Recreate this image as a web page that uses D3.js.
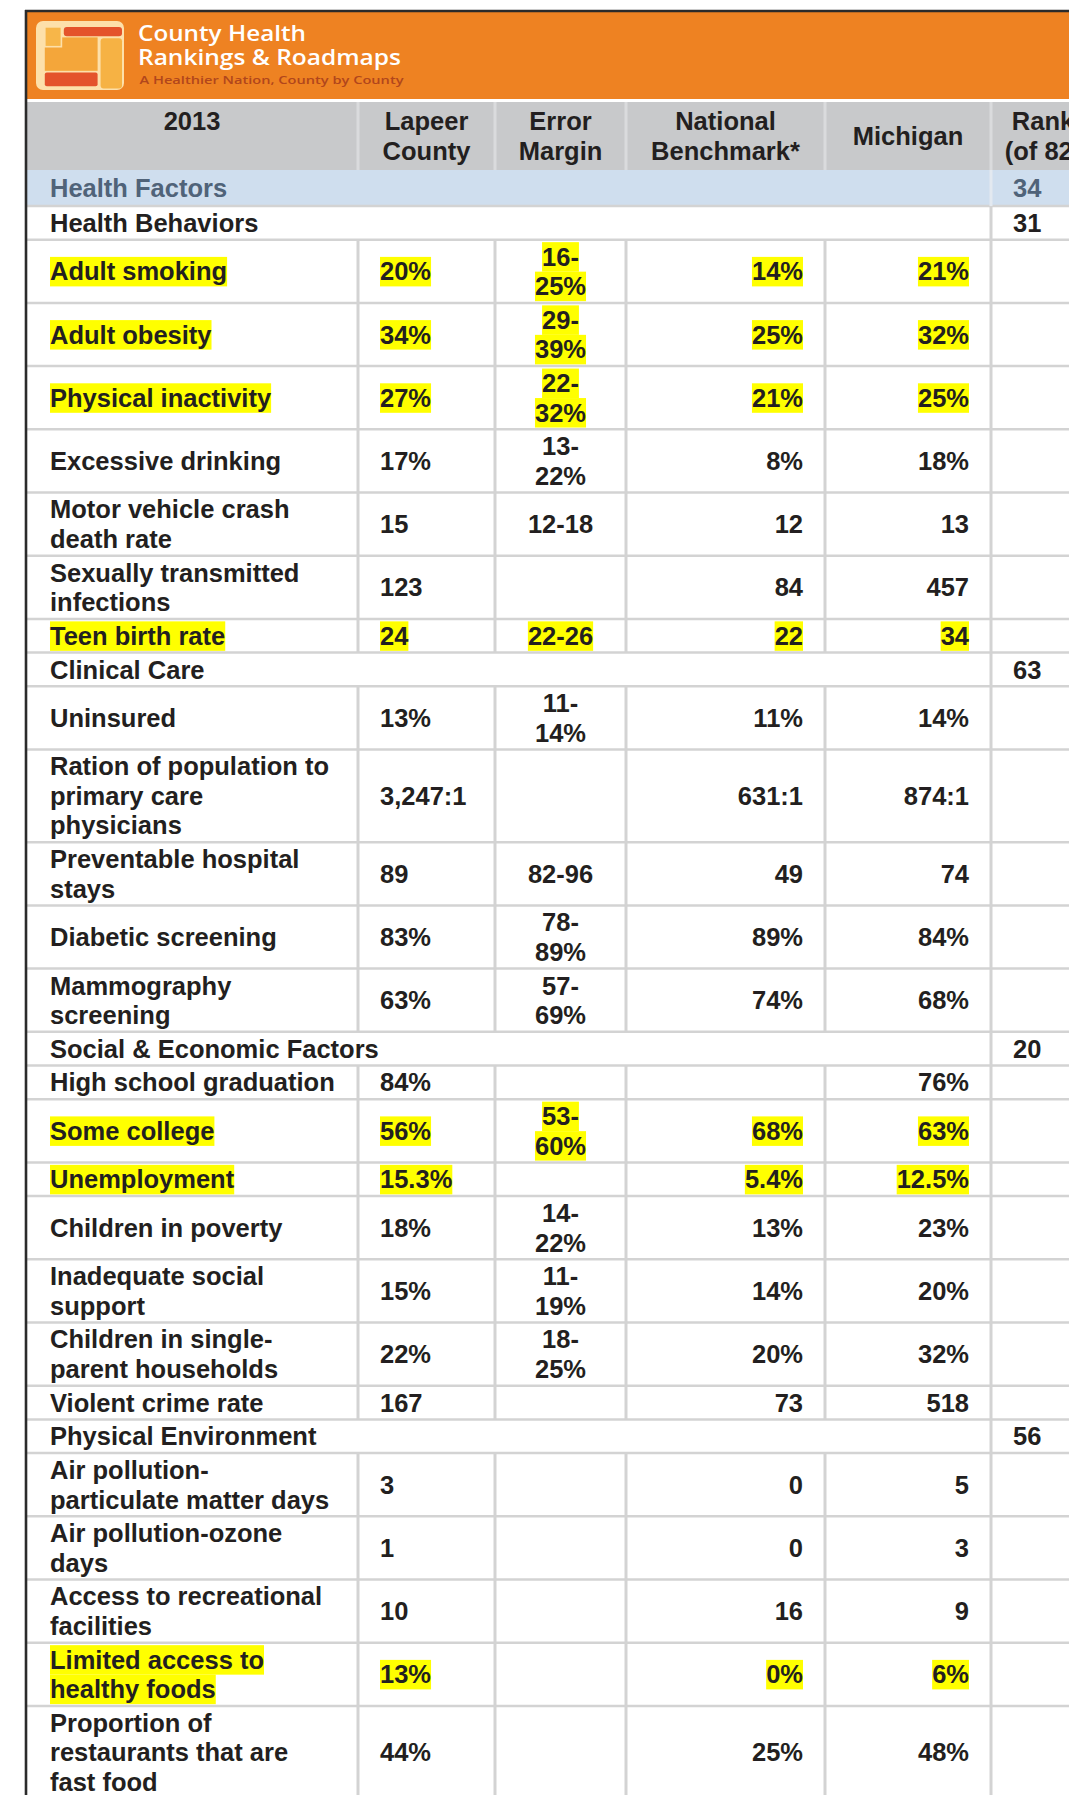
<!DOCTYPE html>
<html>
<head>
<meta charset="utf-8">
<title>County Health Rankings 2013 - Lapeer County</title>
<script src="https://cdn.jsdelivr.net/npm/d3@7"></script>
<style>
    html, body { margin: 0; padding: 0; background: #fff; overflow: hidden; }
    svg { display: block; }
</style>
</head>
<body>
<div id="chart"></div>
<script>
// Table content
const headerLabels  = ["2013", "Lapeer\nCounty", "Error\nMargin", "National\nBenchmark*", "Michigan", "Rank\n(of 82)"];
const factorName    = "Health Factors";
const factorRank    = 34;
const sectionNames  = ["Health Behaviors", "Clinical Care", "Social & Economic Factors", "Physical Environment"];
const sectionRanks  = [31, 63, 20, 56];
const measureSection = [0, 0, 0, 0, 0, 0, 0, 1, 1, 1, 1, 1, 2, 2, 2, 2, 2, 2, 2, 3, 3, 3, 3, 3];

const measureNames = [
    "Adult smoking", "Adult obesity", "Physical inactivity", "Excessive drinking",
    "Motor vehicle crash\ndeath rate", "Sexually transmitted\ninfections", "Teen birth rate",
    "Uninsured", "Ration of population to\nprimary care\nphysicians", "Preventable hospital\nstays",
    "Diabetic screening", "Mammography\nscreening",
    "High school graduation", "Some college", "Unemployment", "Children in poverty",
    "Inadequate social\nsupport", "Children in single-\nparent households", "Violent crime rate",
    "Air pollution-\nparticulate matter days", "Air pollution-ozone\ndays",
    "Access to recreational\nfacilities", "Limited access to\nhealthy foods",
    "Proportion of\nrestaurants that are\nfast food"
];
const lapeerCounty = ["20%", "34%", "27%", "17%", "15", "123", "24", "13%", "3,247:1", "89", "83%", "63%",
    "84%", "56%", "15.3%", "18%", "15%", "22%", "167", "3", "1", "10", "13%", "44%"];
const errorMargin = ["16-25%", "29-39%", "22-32%", "13-22%", "12-18", "", "22-26", "11-14%", "", "82-96", "78-89%", "57-69%",
    "", "53-60%", "", "14-22%", "11-19%", "18-25%", "", "", "", "", "", ""];
const nationalBenchmark = ["14%", "25%", "21%", "8%", "12", "84", "22", "11%", "631:1", "49", "89%", "74%",
    "", "68%", "5.4%", "13%", "14%", "20%", "73", "0", "0", "16", "0%", "25%"];
const michiganValues = ["21%", "32%", "25%", "18%", "13", "457", "34", "14%", "874:1", "74", "84%", "68%",
    "76%", "63%", "12.5%", "23%", "20%", "32%", "518", "5", "3", "9", "6%", "48%"];
const highlightedMeasures = ["Adult smoking", "Adult obesity", "Physical inactivity", "Teen birth rate",
    "Some college", "Unemployment", "Limited access to healthy foods"];

// Layout
const WIDTH       = 1069;
const HEIGHT      = 1795;
const FONT        = "'Liberation Sans', Arial, Helvetica, sans-serif";
const FONT_SIZE   = 25.5;
const LINE_HEIGHT = 29.5;
const BASELINE    = 9.1;     // offset from line centre to baseline
const TEXT_COLOR  = "#231f20";
const GRID_COLOR  = "#d3d3d3";
const HIGHLIGHT   = "#ffff00";
const MAX_RANGE_W = 80;      // error margins wider than this wrap after the dash

const HEADER_TOP  = 102;
const TABLE_TOP   = 170;

const columns = ["measure", "county", "error", "national", "state", "rank"];
const edges   = [26, 358, 495, 626, 825, 991, 1095];

const xLeft  = d3.scaleOrdinal().domain(columns).range(edges.slice(0, -1));
const xRight = d3.scaleOrdinal().domain(columns).range(edges.slice(1));

// How each column places its text: [anchor, inset]
const placement = {
    measure:  ["start", 24],
    county:   ["start", 22],
    error:    ["middle", 0],
    national: ["end", 22],
    state:    ["end", 22],
    rank:     ["start", 22]
};

const svg = d3.select("#chart")
    .append("svg")
    .attr("width", WIDTH)
    .attr("height", HEIGHT)
    .attr("viewBox", [0, 0, WIDTH, HEIGHT]);

// Hidden group used to measure text widths
const probe = svg.append("g").attr("opacity", 0);

function textWidth(str, size = FONT_SIZE)
{
    let t = probe.append("text")
        .attr("font-family", FONT)
        .attr("font-weight", "bold")
        .attr("font-size", size)
        .text(str);
    let w = t.node().getComputedTextLength();
    t.remove();
    return w;
}

function textX(col)
{
    let [anchor, inset] = placement[col];
    if (anchor === "start") return xLeft(col) + inset;
    if (anchor === "end") return xRight(col) - inset;
    return (xLeft(col) + xRight(col)) / 2;
}

/**
 * Draws one or more lines of text centred vertically on cy,
 * with an optional yellow marker behind each line.
 */
function drawLines(group, lines, x, anchor, cy, marked, color = TEXT_COLOR)
{
    let top = cy - (lines.length - 1) * LINE_HEIGHT / 2;

    lines.forEach((line, i) => {
        let base = top + i * LINE_HEIGHT + BASELINE;

        if (marked && line !== "") {
            let w  = textWidth(line);
            let x0 = anchor === "start" ? x : (anchor === "end" ? x - w : x - w / 2);
            group.append("rect")
                .attr("x", x0)
                .attr("y", base - 23.5)
                .attr("width", w)
                .attr("height", 29.5)
                .attr("fill", HIGHLIGHT);
        }

        group.append("text")
            .attr("x", x)
            .attr("y", base)
            .attr("text-anchor", anchor)
            .attr("font-family", FONT)
            .attr("font-weight", "bold")
            .attr("font-size", FONT_SIZE)
            .attr("fill", color)
            .text(line);
    });
}

function splitRange(value)
{
    if (value === "") return [""];
    if (textWidth(value) > MAX_RANGE_W && value.includes("-")) {
        let i = value.indexOf("-");
        return [value.slice(0, i + 1), value.slice(i + 1)];
    }
    return [value];
}

// Build the list of table rows
let rows = [{ type: "factor", label: [factorName], rank: factorRank }];

sectionNames.forEach((name, s) => {
    rows.push({ type: "section", label: [name], rank: sectionRanks[s] });

    measureNames.forEach((m, i) => {
        if (measureSection[i] !== s) return;

        let cells = {
            measure:  m.split("\n"),
            county:   [lapeerCounty[i]],
            error:    splitRange(errorMargin[i]),
            national: [nationalBenchmark[i]],
            state:    [michiganValues[i]]
        };

        rows.push({
            type:   "measure",
            cells:  cells,
            marked: highlightedMeasures.includes(m.replace(/\n/g, " ")),
            lines:  d3.max(Object.values(cells), (c) => c.length)
        });
    });
});

rows.forEach((r) => {
    r.height = r.type === "factor" ? 36 : 4.2 + LINE_HEIGHT * (r.lines || 1);
});

let bottoms = d3.cumsum(rows, (r) => r.height);
rows.forEach((r, i) => {
    r.y1 = TABLE_TOP + bottoms[i];
    r.y0 = r.y1 - r.height;
});

// ---- Banner ----
const banner = svg.append("g").attr("class", "banner");

banner.append("rect")
    .attr("x", 26).attr("y", 12)
    .attr("width", WIDTH - 26).attr("height", 87)
    .attr("fill", "#ee8222");

// Logo: rounded frame with coloured panels
const logo = banner.append("g").attr("transform", "translate(36,21)");
logo.append("rect").attr("width", 88).attr("height", 69).attr("rx", 7).attr("fill", "#fde0aa");

[
    [8.8, 16.4, 52.8, 33.4, "#f4a63a", 0],
    [27.8, 5.9, 58.2, 9.4, "#e4532b", 3],
    [64.6, 17.2, 21.4, 50.2, "#f6b244", 3],
    [8.8, 51.4, 52.8, 13.8, "#e4532b", 2]
].forEach(([x, y, w, h, c, r]) => {
    logo.append("rect").attr("x", x).attr("y", y).attr("width", w).attr("height", h)
        .attr("rx", r).attr("fill", c);
});
logo.append("rect")
    .attr("x", 8.8).attr("y", 5.9).attr("width", 16.6).attr("height", 19.8)
    .attr("fill", "#f7b649").attr("stroke", "#fde0aa").attr("stroke-width", 1.6);

banner.append("text")
    .attr("x", 138).attr("y", 40.5)
    .attr("font-family", "'Open Sans', 'Noto Sans', sans-serif")
    .attr("font-weight", 600)
    .attr("font-size", 21)
    .attr("fill", "#fff")
    .attr("textLength", 168).attr("lengthAdjust", "spacingAndGlyphs")
    .text("County Health");

banner.append("text")
    .attr("x", 138).attr("y", 65.2)
    .attr("font-family", "'Open Sans', 'Noto Sans', sans-serif")
    .attr("font-weight", 600)
    .attr("font-size", 21)
    .attr("fill", "#fff")
    .attr("textLength", 263).attr("lengthAdjust", "spacingAndGlyphs")
    .text("Rankings & Roadmaps");

banner.append("text")
    .attr("x", 139.5).attr("y", 84.2)
    .attr("font-family", "'Open Sans', 'Noto Sans', sans-serif")
    .attr("font-weight", 600)
    .attr("font-size", 11.5)
    .attr("fill", "#b1461c")
    .attr("textLength", 264).attr("lengthAdjust", "spacingAndGlyphs")
    .text("A Healthier Nation, County by County");

// ---- Column header ----
const header = svg.append("g").attr("class", "header");

header.append("rect")
    .attr("x", 27).attr("y", HEADER_TOP)
    .attr("width", WIDTH - 27).attr("height", TABLE_TOP - HEADER_TOP)
    .attr("fill", "#c8c9cb");

header.selectAll("line.sep")
    .data(columns.slice(1))
    .enter()
    .append("line")
    .attr("class", "sep")
    .attr("x1", (c) => xLeft(c)).attr("x2", (c) => xLeft(c))
    .attr("y1", HEADER_TOP).attr("y2", TABLE_TOP)
    .attr("stroke", "#dadbdd").attr("stroke-width", 3);

const headerMid = (HEADER_TOP + TABLE_TOP) / 2;

columns.forEach((c, i) => {
    let lines = headerLabels[i].split("\n");
    let cx    = (xLeft(c) + xRight(c)) / 2;
    // Single-line "2013" sits on the first line, "Michigan" is centred
    let cy    = i === 0 ? headerMid - LINE_HEIGHT / 2 : headerMid;
    drawLines(header, lines, cx, "middle", cy, false);
});

// ---- Body ----
const body = svg.append("g").attr("class", "body");

// Factor row background
rows.filter((r) => r.type === "factor").forEach((r) => {
    body.append("rect")
        .attr("x", 27).attr("y", r.y0)
        .attr("width", WIDTH - 27).attr("height", r.height)
        .attr("fill", "#cfdeee");
});

// Horizontal rules below each row
body.selectAll("line.row-rule")
    .data(rows)
    .enter()
    .append("line")
    .attr("class", "row-rule")
    .attr("x1", 27).attr("x2", WIDTH)
    .attr("y1", (r) => r.y1).attr("y2", (r) => r.y1)
    .attr("stroke", GRID_COLOR).attr("stroke-width", 2.5);

// Vertical rules per row
rows.forEach((r) => {
    let cols = r.type === "measure" ? columns.slice(1) : ["rank"];
    cols.forEach((c) => {
        body.append("line")
            .attr("x1", xLeft(c)).attr("x2", xLeft(c))
            .attr("y1", r.y0).attr("y2", r.y1)
            .attr("stroke", r.type === "factor" ? "#e3e9f0" : GRID_COLOR)
            .attr("stroke-width", 3);
    });
});

// Cell text
rows.forEach((r) => {
    let cy = (r.y0 + r.y1) / 2;

    if (r.type !== "measure") {
        let color = r.type === "factor" ? "#506379" : TEXT_COLOR;
        drawLines(body, r.label, textX("measure"), "start", cy, false, color);
        drawLines(body, [String(r.rank)], textX("rank"), "start", cy, false, color);
        return;
    }

    Object.entries(r.cells).forEach(([c, lines]) => {
        drawLines(body, lines, textX(c), placement[c][0], cy, r.marked);
    });
});

// Outer frame: dark top and left borders
svg.append("line")
    .attr("x1", 25).attr("x2", WIDTH)
    .attr("y1", 11).attr("y2", 11)
    .attr("stroke", "#2b2b2b").attr("stroke-width", 2.6);

svg.append("line")
    .attr("x1", 26).attr("x2", 26)
    .attr("y1", 10).attr("y2", HEIGHT)
    .attr("stroke", "#2b2b2b").attr("stroke-width", 2.6);

probe.remove();
</script>
</body>
</html>
